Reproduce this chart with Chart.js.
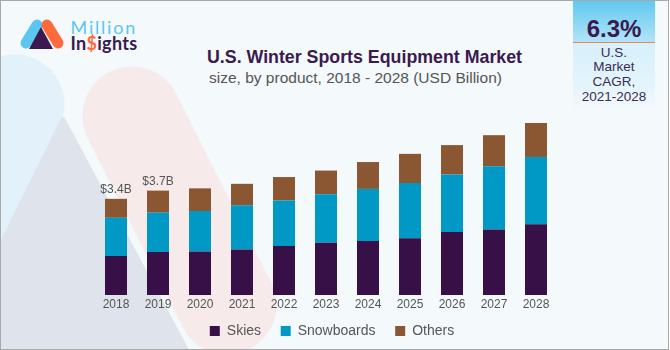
<!DOCTYPE html>
<html>
<head>
<meta charset="utf-8">
<script src="https://cdn.jsdelivr.net/npm/chart.js@4.4.0/dist/chart.umd.min.js"></script>
<style>
  html, body { margin: 0; padding: 0; background: #fff; }
  #frame { position: relative; width: 670px; height: 350px; overflow: hidden; background: #fff; font-family: "Liberation Sans", Arial, sans-serif; }
  #panel { position: absolute; left: 0; top: 0; width: 669px; height: 350px; background: #f4f9fc; }
  #border { position: absolute; left: 0; top: 0; width: 669px; height: 350px; box-sizing: border-box; border: 1px solid #a8a8a8; }
  #bg, #logo, #chart { position: absolute; left: 0; top: 0; }
  .txt { position: absolute; white-space: nowrap; line-height: 1; }
  #title { left: 207px; top: 48.7px; font-size: 17.8px; font-weight: bold; color: #3a1a4f; }
  #subtitle { left: 209px; top: 69.5px; font-size: 15.5px; color: #555; }
  #million { left: 70.5px; top: 17.6px; font-family: Lato, sans-serif; font-size: 18px; color: #5bc6ef; letter-spacing: 1.8px; }
  #insights { left: 70.5px; top: 33.9px; font-family: Lato, sans-serif; font-size: 18px; font-weight: bold; color: #3a1a4f; letter-spacing: 0.3px; }
  #insights span { color: #ff6a3d; }
  #cagr { position: absolute; left: 573px; top: 0; width: 82px; height: 110px;
          background: linear-gradient(to bottom, #5ec8f0 0px, #b3e4f8 42px, #d6f0fb 43px, #e6f5fc 90px, #f2f9fc 110px); }
  #cagr .line { position: absolute; left: 0; top: 41.5px; width: 82px; height: 1.6px; background: #f08159; }
  #cagrVal { position: absolute; left: 0; top: 16.9px; width: 82px; text-align: center; font-size: 24px; font-weight: bold; color: #3a1a4f; line-height: 1; }
  #cagrTxt { position: absolute; left: 0; top: 45.6px; width: 82px; text-align: center; font-size: 13.5px; color: #3d2c52; line-height: 14.7px; }
</style>
</head>
<body>
<div id="frame">
  <div id="panel"></div>
  <svg id="bg" width="670" height="350">
    <line x1="15" y1="104" x2="-100" y2="334" stroke="#e3f1fa" stroke-width="99" stroke-linecap="round"/>
    <line x1="132" y1="116" x2="227" y2="305" stroke="#f6eaea" stroke-width="99" stroke-linecap="round"/>
    <polygon points="63,119 -52,352 188,352" fill="#dfe3eb" stroke="#dfe3eb" stroke-width="4" stroke-linejoin="round"/>
  </svg>
  <svg id="logo" width="70" height="60">
    <line x1="26" y1="43" x2="37" y2="25" stroke="#5bc6ef" stroke-width="11" stroke-linecap="round"/>
    <line x1="47" y1="25" x2="58" y2="43" stroke="#ff6a3d" stroke-width="11" stroke-linecap="round"/>
    <polygon points="41,27 29,49 53,49" fill="#3a1a4f"/>
  </svg>
  <div class="txt" id="million">Million</div>
  <div class="txt" id="insights">In<span>$</span>ights</div>
  <div class="txt" id="title">U.S. Winter Sports Equipment Market</div>
  <div class="txt" id="subtitle">size, by product, 2018 - 2028 (USD Billion)</div>
  <div id="cagr">
    <div id="cagrVal">6.3%</div>
    <div class="line"></div>
    <div id="cagrTxt">U.S.<br>Market<br>CAGR,<br>2021-2028</div>
  </div>
  <canvas id="chart" width="670" height="350"></canvas>
  <div id="border"></div>
</div>
<script>
// Datos (USD Billion)
const years = ['2018', '2019', '2020', '2021', '2022', '2023', '2024', '2025', '2026', '2027', '2028'];
const skis = [1.38, 1.52, 1.54, 1.61, 1.73, 1.85, 1.91, 2.01, 2.23, 2.32, 2.50];
const snowboards = [1.35, 1.39, 1.43, 1.56, 1.61, 1.71, 1.84, 1.95, 2.03, 2.23, 2.38];
const others = [0.67, 0.78, 0.80, 0.76, 0.83, 0.84, 0.95, 1.03, 1.04, 1.10, 1.20];
const totalLabels = ['$3.4B', '$3.7B'];

const FONT = '"Liberation Sans", Arial, sans-serif';

// Etiquetas de total encima de las dos primeras barras
const totalLabelPlugin = {
  id: 'totalLabels',
  afterDatasetsDraw(chart) {
    const { ctx, scales: { x, y } } = chart;
    ctx.save();
    ctx.font = '12px ' + FONT;
    ctx.fillStyle = '#555';
    ctx.textAlign = 'center';
    ctx.textBaseline = 'alphabetic';
    totalLabels.forEach((txt, i) => {
      const total = skis[i] + snowboards[i] + others[i];
      ctx.fillText(txt, x.getPixelForValue(i), y.getPixelForValue(total) - 5.5);
    });
    ctx.restore();
  }
};

// Desplaza un poco la leyenda (no está centrada con el área del gráfico)
const legendShift = {
  id: 'legendShift',
  afterLayout(chart) {
    const lg = chart.legend;
    if (!lg) return;
    lg.left += 6; lg.right += 6;
    lg.top += 1; lg.bottom += 1;
  }
};

new Chart(document.getElementById('chart'), {
  type: 'bar',
  data: {
    labels: years,
    datasets: [
      { label: 'Skies', data: skis, backgroundColor: '#371048' },
      { label: 'Snowboards', data: snowboards, backgroundColor: '#0098c4' },
      { label: 'Others', data: others, backgroundColor: '#8b5732' }
    ]
  },
  options: {
    responsive: false,
    devicePixelRatio: 1,
    animation: false,
    layout: { padding: { left: 95, right: 113, top: 97, bottom: 3 } },
    datasets: { bar: { categoryPercentage: 1, barPercentage: 0.524 } },
    scales: {
      x: {
        stacked: true,
        grid: { display: false, drawTicks: false },
        border: { display: false },
        ticks: { color: '#555', font: { family: FONT, size: 12 }, padding: 2.8, maxRotation: 0 }
      },
      y: { stacked: true, display: false, min: 0, max: 7 }
    },
    plugins: {
      tooltip: { enabled: false },
      legend: {
        position: 'bottom',
        labels: {
          boxWidth: 10,
          boxHeight: 10,
          padding: 8,
          color: '#555',
          font: { family: FONT, size: 14 },
          generateLabels(chart) {
            const items = Chart.defaults.plugins.legend.labels.generateLabels(chart);
            // espacios finales para separar los elementos sin agrandar el alto
            items.forEach((it, i) => { if (i < items.length - 1) it.text += '   '; });
            return items;
          }
        }
      }
    }
  },
  plugins: [totalLabelPlugin, legendShift]
});
</script>
</body>
</html>
